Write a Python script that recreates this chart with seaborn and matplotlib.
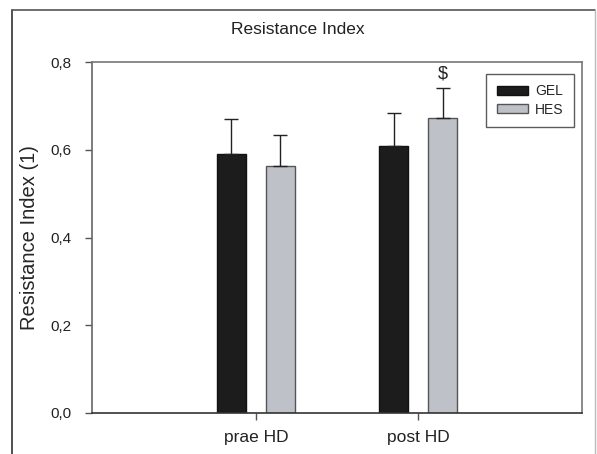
import matplotlib
matplotlib.use("Agg")
import matplotlib.pyplot as plt
import seaborn as sns
import pandas as pd
from matplotlib.patches import Rectangle
from matplotlib.lines import Line2D

categories = ["prae HD", "post HD"]
groups = ["GEL", "HES"]
gel_means = [0.590, 0.609]
hes_means = [0.563, 0.672]
gel_err = [0.080, 0.075]
hes_err = [0.071, 0.069]
yticks = [0.0, 0.2, 0.4, 0.6, 0.8]
ytick_labels = ["0,0", "0,2", "0,4", "0,6", "0,8"]

sns.set_style("white")
plt.rcParams["font.family"] = ["Liberation Sans", "DejaVu Sans"]

df = pd.DataFrame({
    "cat": categories * 2,
    "group": [groups[0]] * 2 + [groups[1]] * 2,
    "val": gel_means + hes_means,
})

fig = plt.figure(figsize=(5.97, 4.54), dpi=100)
ax = fig.add_axes([92 / 597, 41 / 454, 490 / 597, 351 / 454])

palette = {"GEL": "#1c1c1c", "HES": "#bfc1c8"}
W = 0.605
sns.barplot(data=df, x="cat", y="val", hue="group", order=categories,
            hue_order=groups, palette=palette, width=W, gap=0.39,
            errorbar=None, ax=ax, legend=False, saturation=1)

for i, p in enumerate(ax.patches):
    p.set_edgecolor("#555555" if p.get_facecolor()[0] > 0.5 else "#111111")
    p.set_linewidth(1.0)

# error bars (upper only)
off = W / 4
for i in range(len(categories)):
    for m, e, dx in [(gel_means[i], gel_err[i], -off), (hes_means[i], hes_err[i], off)]:
        ax.errorbar(i + dx, m, yerr=[[0], [e]], fmt="none", ecolor="#222222",
                    elinewidth=1.0, capsize=5, capthick=1.0, zorder=1)

ax.text(1 + off, hes_means[1] + hes_err[1] + 0.012, "$", ha="center",
        va="bottom", fontsize=13, color="#222222")

ax.set_xlim(-1.012, 2.012)
ax.set_ylim(0, 0.8)
ax.set_yticks(yticks)
ax.set_yticklabels(ytick_labels)
ax.set_xlabel("")
ax.set_ylabel("Resistance Index (1)", fontsize=14.5)
ax.tick_params(axis="both", direction="out", length=5, width=1, colors="#555555",
               labelcolor="#222222", left=True, bottom=True)
ax.tick_params(axis="y", labelsize=11, pad=10)
ax.tick_params(axis="x", labelsize=12.5, pad=7)
for s in ["top", "right"]:
    ax.spines[s].set_color("#777777")
    ax.spines[s].set_linewidth(1.2)
ax.spines["left"].set_color("#666666")
ax.spines["left"].set_linewidth(1.2)
ax.spines["bottom"].set_color("#333333")
ax.spines["bottom"].set_linewidth(1.2)

# legend
handles = [Rectangle((0, 0), 1, 1, facecolor=palette["GEL"], edgecolor="#111111"),
           Rectangle((0, 0), 1, 1, facecolor=palette["HES"], edgecolor="#555555")]
leg = ax.legend(handles, groups, loc="upper right",
                bbox_to_anchor=(574 / 597, 1 - 74 / 454),
                bbox_transform=fig.transFigure, borderaxespad=0, frameon=True,
                fancybox=False, fontsize=10, handlelength=2.25, handleheight=0.65,
                borderpad=0.75, labelspacing=0.3, handletextpad=0.5)
leg.get_frame().set_edgecolor("#333333")
leg.get_frame().set_linewidth(1.0)

ax.yaxis.set_label_coords(-(92 - 39) / 490, 0.5)

fig.text(298 / 597, 1 - 30 / 454, "Resistance Index", ha="center", va="center",
         fontsize=12.5, color="#222222")

# outer frame
fig.add_artist(Line2D([12 / 597, 12 / 597], [0, 1 - 10 / 454], transform=fig.transFigure,
                      color="#333333", lw=1.2))
fig.add_artist(Line2D([12 / 597, 595 / 597], [1 - 10 / 454, 1 - 10 / 454],
                      transform=fig.transFigure, color="#555555", lw=1.2))
fig.add_artist(Line2D([595 / 597, 595 / 597], [0, 1 - 10 / 454], transform=fig.transFigure,
                      color="#bbbbbb", lw=1.0))

fig.savefig("out.png", dpi=100)
